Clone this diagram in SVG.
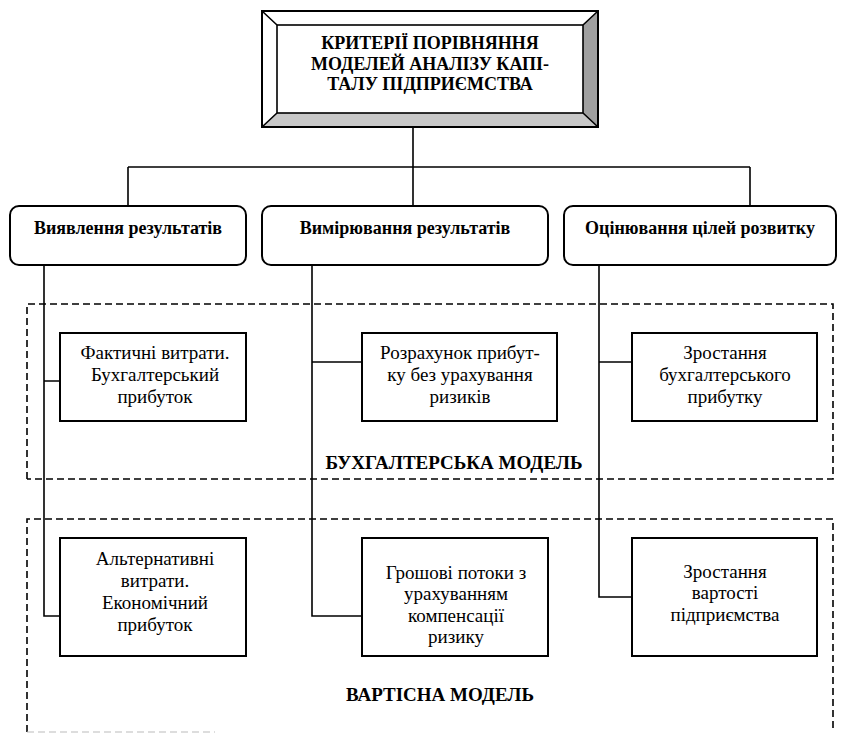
<svg xmlns="http://www.w3.org/2000/svg" width="846" height="733" viewBox="0 0 846 733" font-family="'Liberation Serif', 'Times New Roman', serif">
<style>
.t{fill:#000;text-anchor:middle}
.title{font-size:18px;font-weight:bold}
.l2{font-size:18px;font-weight:bold}
.l3{font-size:19px}
.lbl{font-size:19px;font-weight:bold}
.box{fill:#fff;stroke:#000;stroke-width:2}
.rbox{fill:#fff;stroke:#000;stroke-width:2}
.conn{fill:none;stroke:#000;stroke-width:1.6}
.dash{fill:none;stroke:#000;stroke-width:1.6;stroke-dasharray:7 4}
</style>
<rect width="846" height="733" fill="#fff"/>
<g id="groups">
<path class="dash" d="M27,479 V304 H833 V479 H27"/>
<path class="dash" d="M27,732 V519 H833 V732"/>
<path d="M27,732 H215" fill="none" stroke="#bbb" stroke-width="1.2" stroke-dasharray="7 4"/>
</g>
<g id="connectors">
<path class="conn" d="M413,127 V167 M128,167 H750 M128,167 V206 M413,167 V206 M750,167 V206"/>
<path class="conn" d="M44,265 V616 H60 M44,381 H60"/>
<path class="conn" d="M312,265 V616 H362 M312,362 H362"/>
<path class="conn" d="M599,265 V597 H632 M599,362 H632"/>
</g>
<g id="title">
<rect x="262" y="11" width="336" height="116" fill="#fff" stroke="#000" stroke-width="2"/>
<polygon points="262,127 598,127 583,113 277,113" fill="#c8c8c8"/>
<polygon points="598,11 598,127 583,113 583,25" fill="#a0a0a0"/>
<rect x="262" y="11" width="336" height="116" fill="none" stroke="#000" stroke-width="2"/>
<rect x="277" y="25" width="306" height="88" fill="#fff" stroke="#000" stroke-width="1.6"/>
<path d="M262,11 L277,25 M598,11 L583,25 M262,127 L277,113 M598,127 L583,113" stroke="#000" stroke-width="1.6" fill="none"/>
<text class="t title" x="430" y="49">КРИТЕРІЇ ПОРІВНЯННЯ</text>
<text class="t title" x="430" y="70">МОДЕЛЕЙ АНАЛІЗУ КАПІ-</text>
<text class="t title" x="430" y="90">ТАЛУ ПІДПРИЄМСТВА</text>
</g>
<g id="n-vyiavlennia">
<rect class="rbox" x="10" y="206" width="236" height="59" rx="9"/>
<text class="t l2" x="128" y="234">Виявлення результатів</text>
</g>
<g id="n-vymiriuvannia">
<rect class="rbox" x="262" y="206" width="286" height="59" rx="9"/>
<text class="t l2" x="405" y="234">Вимірювання результатів</text>
</g>
<g id="n-otsiniuvannia">
<rect class="rbox" x="564" y="206" width="272" height="59" rx="9"/>
<text class="t l2" x="700" y="234">Оцінювання цілей розвитку</text>
</g>
<g id="n-faktychni">
<rect class="box" x="60" y="333" width="186" height="88"/>
<text class="t l3" x="155" y="359">Фактичні витрати.</text>
<text class="t l3" x="155" y="381">Бухгалтерський</text>
<text class="t l3" x="155" y="403">прибуток</text>
</g>
<g id="n-rozrakhunok">
<rect class="box" x="362" y="333" width="195" height="88"/>
<text class="t l3" x="460" y="359">Розрахунок прибут-</text>
<text class="t l3" x="460" y="381">ку без урахування</text>
<text class="t l3" x="460" y="403">ризиків</text>
</g>
<g id="n-zrostannia-bukh">
<rect class="box" x="632" y="333" width="185" height="88"/>
<text class="t l3" x="725" y="359">Зростання</text>
<text class="t l3" x="725" y="381">бухгалтерського</text>
<text class="t l3" x="725" y="403">прибутку</text>
</g>
<g id="n-alternatyvni">
<rect class="box" x="60" y="538" width="186" height="118"/>
<text class="t l3" x="155" y="565">Альтернативні</text>
<text class="t l3" x="155" y="587">витрати.</text>
<text class="t l3" x="155" y="609">Економічний</text>
<text class="t l3" x="155" y="631">прибуток</text>
</g>
<g id="n-hroshovi">
<rect class="box" x="362" y="538" width="186" height="118"/>
<text class="t l3" x="456" y="579">Грошові потоки з</text>
<text class="t l3" x="456" y="600">урахуванням</text>
<text class="t l3" x="456" y="622">компенсації</text>
<text class="t l3" x="456" y="643">ризику</text>
</g>
<g id="n-zrostannia-vart">
<rect class="box" x="632" y="538" width="185" height="118"/>
<text class="t l3" x="725" y="578">Зростання</text>
<text class="t l3" x="725" y="599">вартості</text>
<text class="t l3" x="725" y="621">підприємства</text>
</g>
<g id="labels">
<text class="t lbl" x="454" y="469">БУХГАЛТЕРСЬКА МОДЕЛЬ</text>
<text class="t lbl" x="440" y="701">ВАРТІСНА МОДЕЛЬ</text>
</g>
</svg>
